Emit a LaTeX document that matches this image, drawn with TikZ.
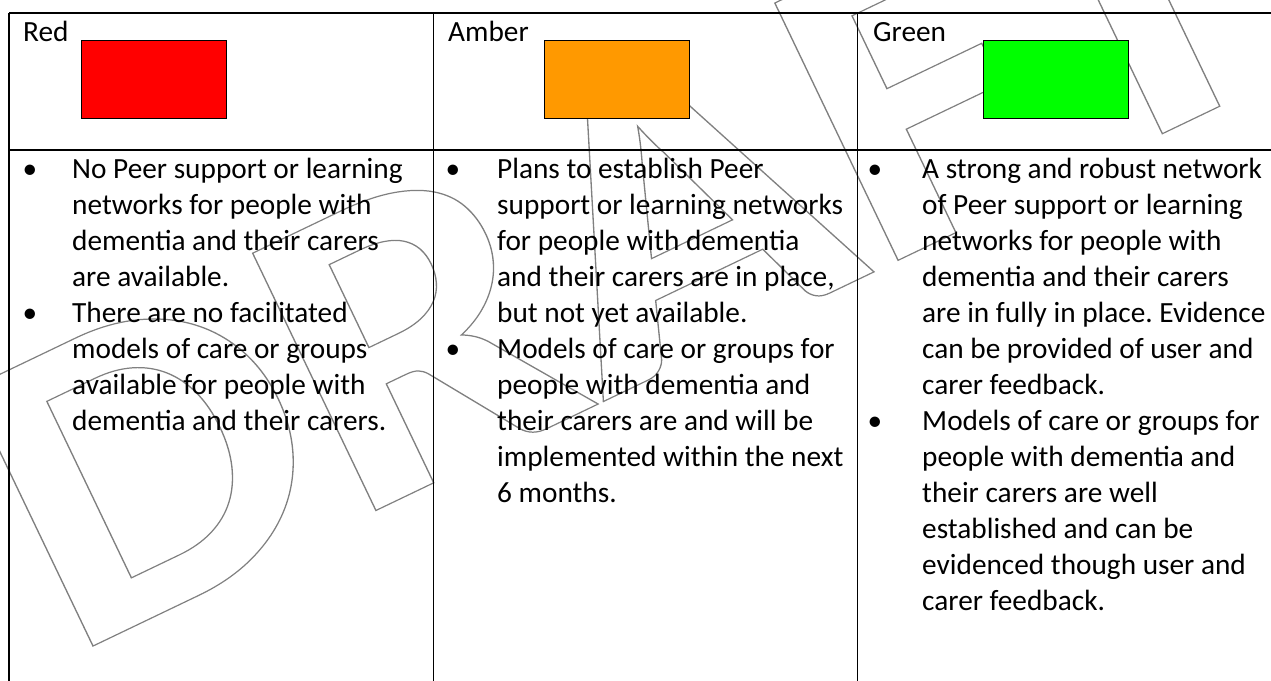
\documentclass[tikz,border=0pt]{standalone}
\usepackage{fontspec}
\setmainfont{Carlito}
\newfontfamily\wmfont{Carlito}[BoldFont={* Bold}]
\definecolor{ragred}{RGB}{255,0,0}
\definecolor{ragamber}{RGB}{255,153,0}
\definecolor{raggreen}{RGB}{0,255,0}
\newcommand{\outlinetext}[1]{\special{pdf:literal direct 1 Tr}#1\special{pdf:literal direct 0 Tr}}
\frenchspacing
\begin{document}
\begin{tikzpicture}[x=1pt, y=-1pt,
  grid/.style={line width=1.5pt},
  swatch/.style={draw, line width=1pt, minimum width=145pt, minimum height=78pt, inner sep=0pt},
  cell/.style={anchor=base west, align=left, inner sep=0pt, font=\fontsize{29.3}{36}\selectfont},
  dot/.style={anchor=base, inner sep=0pt, font=\fontsize{29.3}{36}\selectfont},
  watermark/.style={anchor=base west, inner sep=0pt, text=gray, line width=1.2pt,
    font=\wmfont\bfseries\fontsize{440}{440}\selectfont}]
\useasboundingbox (0,0) rectangle (1271,680);
\clip (0,0) rectangle (1271,680);
% watermark behind the table
\node[watermark, rotate=25.6, xscale=1.13] (draft) at (67,658.5) {\outlinetext{DRAFT}};
% table rules
\draw[grid] (9,13) -- (1280,13);
\draw[grid] (9,150) -- (1280,150);
\foreach \x in {9, 433.5, 857.5}
  \draw[grid] (\x,13) -- (\x,690);
% header cells
\node[cell] (hred) at (23,41) {Red};
\node[cell] (hamber) at (448,41) {Amber};
\node[cell] (hgreen) at (873,41) {Green};
\foreach \name/\x/\col in {redbox/81/ragred, amberbox/544/ragamber, greenbox/983/raggreen}
  \node[swatch, fill=\col] (\name) at (\x+72.5,79) {};
% bullets
\foreach \x/\y in {30/178, 30/322, 453/178, 453/358, 875/178, 875/430}
  \node[dot] at (\x,\y) {•};
% body cells (anchored on the base of the last line)
\node[cell] (red1) at (72,286) {No Peer support or learning\\networks for people with\\dementia and their carers\\are available.};
\node[cell] (red2) at (72,430) {There are no facilitated\\models of care or groups\\available for people with\\dementia and their carers.};
\node[cell] (amber1) at (497,322) {Plans to establish Peer\\support or learning networks\\for people with dementia\\and their carers are in place,\\but not yet available.};
\node[cell] (amber2) at (497,502) {Models of care or groups for\\people with dementia and\\their carers are and will be\\implemented within the next\\6 months.};
\node[cell] (green1) at (922,394) {A strong and robust network\\of Peer support or learning\\networks for people with\\dementia and their carers\\are in fully in place. Evidence\\can be provided of user and\\carer feedback.};
\node[cell] (green2) at (922,610) {Models of care or groups for\\people with dementia and\\their carers are well\\established and can be\\evidenced though user and\\carer feedback.};
\end{tikzpicture}
\end{document}
